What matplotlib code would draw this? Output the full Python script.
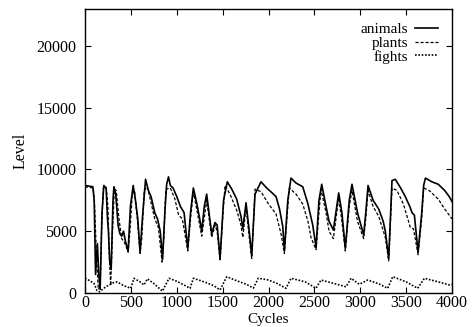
import matplotlib
matplotlib.use("Agg")
import matplotlib.pyplot as plt

# values (cycle, level), key vertices only
animals_x = [0, 85, 100, 115, 135, 150, 165, 185, 205, 230, 245, 255, 270, 285, 305, 315, 335, 360, 380, 400,
             420, 440, 470, 495, 525, 550, 575, 600, 625, 660, 690, 720, 760, 790, 820, 845, 870, 890, 910, 930,
             960, 1000, 1040, 1080, 1100, 1120, 1150, 1181, 1217, 1250, 1272, 1300, 1326, 1360, 1381, 1417, 1440,
             1472, 1510, 1551, 1600, 1653, 1700, 1720, 1755, 1790, 1817, 1853, 1918, 1980, 2040, 2082, 2120, 2155,
             2173, 2210, 2245, 2300, 2373, 2430, 2482, 2518, 2550, 2580, 2627, 2660, 2707, 2765, 2800, 2837, 2880,
             2910, 2970, 3037, 3060, 3085, 3140, 3201, 3250, 3273, 3310, 3346, 3382, 3440, 3491, 3540, 3564, 3590,
             3630, 3670, 3691, 3710, 3780, 3850, 3920, 3970, 4000]
animals_y = [8700, 8600, 7500, 1500, 4000, 1500, 300, 6500, 8700, 8500, 6000, 5000, 2500, 1900, 7500, 8600, 8000,
             5500, 4800, 4600, 5000, 4200, 3400, 7000, 8700, 7500, 6000, 3300, 6000, 9200, 8300, 7800, 6500, 6000,
             5000, 2700, 6500, 8800, 9400, 8700, 8500, 7800, 7000, 6500, 5000, 3600, 6500, 8500, 7300, 6000, 5000,
             7000, 8000, 6000, 4800, 5700, 5500, 2800, 7500, 9000, 8400, 7600, 6200, 5200, 7300, 5000, 3000, 8000,
             9000, 8500, 8100, 7800, 6800, 5400, 3400, 7500, 9300, 8900, 8600, 7200, 5500, 3700, 7500, 8800, 7000,
             5800, 5100, 8100, 6500, 3600, 7500, 8800, 6500, 4700, 6500, 8700, 7500, 6800, 5800, 5000, 2800, 9100,
             9200, 8500, 7800, 7000, 6500, 6300, 3300, 6500, 8700, 9300, 9000, 8800, 8300, 7800, 7400]

plants_x = [0, 90, 105, 125, 145, 165, 180, 200, 230, 250, 265, 280, 300, 320, 340, 370, 400, 430, 470, 490, 515,
            540, 570, 600, 620, 645, 680, 720, 760, 800, 840, 860, 880, 930, 980, 1020, 1061, 1100, 1120, 1150, 1181,
            1217, 1272, 1326, 1381, 1417, 1440, 1472, 1500, 1526, 1580, 1653, 1700, 1720, 1755, 1790, 1817, 1853,
            1918, 2000, 2082, 2136, 2173, 2200, 2227, 2300, 2373, 2430, 2463, 2518, 2550, 2572, 2627, 2660, 2707,
            2765, 2800, 2837, 2880, 2910, 2970, 3037, 3060, 3085, 3140, 3201, 3273, 3310, 3346, 3400, 3470, 3546,
            3580, 3630, 3670, 3691, 3750, 3850, 3920, 4000]
plants_y = [8600, 8500, 7000, 3000, 300, 500, 5000, 8500, 8600, 7000, 3000, 600, 5000, 8400, 8300, 6000, 4400, 4100,
            3300, 5000, 8000, 8300, 6000, 3200, 4500, 8300, 8600, 7300, 6000, 5300, 2500, 4500, 8400, 8500, 7600,
            6300, 6000, 4300, 3400, 6000, 8200, 6800, 4600, 7500, 4500, 5500, 5000, 2600, 6000, 8700, 8000, 6700,
            5500, 4500, 7000, 4500, 2800, 8400, 8200, 7200, 6400, 4800, 3200, 6000, 8500, 8000, 7200, 5800, 4500,
            3500, 6500, 8400, 6500, 5000, 4400, 7700, 5800, 3400, 7000, 8300, 5800, 4400, 6000, 8300, 7000, 6200,
            4500, 2600, 8500, 8300, 7200, 5300, 5200, 3100, 6000, 8500, 8300, 7600, 6800, 6000]

fights_x = [0, 50, 98, 130, 160, 225, 300, 352, 420, 498, 534, 600, 643, 680, 760, 843, 916, 1000, 1079, 1145,
            1181, 1300, 1400, 1472, 1545, 1650, 1760, 1835, 1889, 2000, 2100, 2190, 2245, 2400, 2518, 2572, 2700,
            2845, 2900, 2990, 3081, 3200, 3299, 3354, 3500, 3626, 3699, 3850, 3971, 4000]
fights_y = [1200, 1000, 780, 200, 100, 500, 800, 900, 600, 380, 1190, 900, 650, 1150, 700, 150, 1190, 950, 650, 380,
            1190, 900, 600, 250, 1320, 1000, 700, 400, 1200, 1050, 750, 380, 1190, 900, 380, 1050, 800, 500, 1190,
            700, 1050, 750, 380, 1320, 900, 380, 1190, 900, 650, 700]

x_ticks = [0, 500, 1000, 1500, 2000, 2500, 3000, 3500, 4000]
y_ticks = [0, 5000, 10000, 15000, 20000]

plt.rcParams.update({
    "font.family": ["Liberation Serif", "DejaVu Serif"],
    "font.size": 11.5,
    "xtick.direction": "in",
    "ytick.direction": "in",
    "xtick.top": True,
    "ytick.right": True,
})

fig = plt.figure(figsize=(4.76, 3.27), dpi=100)
ax = fig.add_axes([0.1786, 0.104, 0.771, 0.869])

ax.plot(animals_x, animals_y, color="black", lw=1.2, label="animals")
ax.plot(plants_x, plants_y, color="black", lw=0.9, linestyle=(0, (2.5, 1.5)), label="plants")
ax.plot(fights_x, fights_y, color="black", lw=1.2, linestyle=(0, (1, 1)), label="fights")

ax.set_xlim(0, 4000)
ax.set_ylim(0, 23000)
ax.set_xticks(x_ticks)
ax.set_yticks(y_ticks)
ax.tick_params(length=4, width=0.8, pad=1.5)
ax.tick_params(axis="y", pad=6)
for s in ax.spines.values():
    s.set_linewidth(1.0)

# x label sits right under the tick labels, at the very bottom edge
fig.text(0.1786 + 0.771 / 2, 0.002, "Cycles", ha="center", va="bottom", fontsize=11)
ax.set_ylabel("Level", labelpad=6)

ax.legend(loc="upper right", frameon=False, markerfirst=False, handlelength=1.5,
          handletextpad=0.45, labelspacing=0.0, borderaxespad=0.5, fontsize=11)

fig.savefig("out.png", dpi=100)
